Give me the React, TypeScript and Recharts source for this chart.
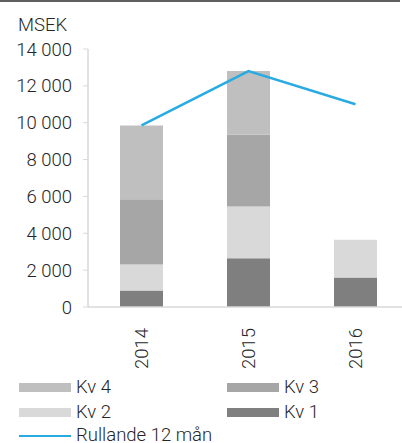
import React from 'react';
import { ComposedChart, Bar, Line, XAxis, YAxis } from 'recharts';

const years = ['2014', '2015', '2016'];
const kv1 = [900, 2650, 1600];
const kv2 = [1400, 2800, 2050];
const kv3 = [3550, 3900, null];
const kv4 = [4000, 3450, null];
const rolling = [9850, 12800, 11000];
const yTicks = [0, 2000, 4000, 6000, 8000, 10000, 12000, 14000];

const FONT = 'Roboto, "Liberation Sans", sans-serif';
const FS = 18.5;
const TEXT = '#262626';
const AXIS = '#d9d9d9';
const BLUE = '#29abe2';

const colors = { kv1: '#7f7f7f', kv2: '#d9d9d9', kv3: '#a6a6a6', kv4: '#bfbfbf' };

const data = years.map((y, i) => ({
  year: y,
  kv1: kv1[i],
  kv2: kv2[i],
  kv3: kv3[i],
  kv4: kv4[i],
  rolling: rolling[i],
}));

const fmt = (v: number) => String(v).replace(/\B(?=(\d{3})+(?!\d))/g, ' ');

const YearTick = ({ x, y, payload }: any) => (
  <text
    transform={`translate(${x},${y + 13}) rotate(-90)`}
    textAnchor="end"
    dy="0.36em"
    fontSize={FS}
    fontFamily={FONT}
    fontWeight={300}
    fill={TEXT}
  >
    {payload.value}
  </text>
);

const legendRows = [
  [{ name: 'Kv 4', color: colors.kv4 }, { name: 'Kv 3', color: colors.kv3 }],
  [{ name: 'Kv 2', color: colors.kv2 }, { name: 'Kv 1', color: colors.kv1 }],
];

export default function App() {
  const textStyle: React.CSSProperties = {
    fontSize: FS,
    lineHeight: `${FS}px`,
    fontWeight: 300,
    color: TEXT,
    whiteSpace: 'nowrap',
  };
  return (
    <div
      style={{
        position: 'absolute',
        left: 0,
        top: 0,
        width: 402,
        height: 443,
        overflow: 'hidden',
        background: '#fff',
        fontFamily: FONT,
      }}
    >
      <div style={{ position: 'absolute', left: 0, top: 0, width: 400, height: 2, background: '#5f5f5f' }} />
      <div style={{ ...textStyle, position: 'absolute', left: 18, top: 15.5 }}>MSEK</div>

      <ComposedChart
        width={409}
        height={443}
        data={data}
        margin={{ top: 49, right: 0, left: 0, bottom: 76 }}
        barCategoryGap={0}
      >
        <XAxis
          xAxisId="grid"
          type="number"
          domain={[0, 3]}
          ticks={[0, 1, 2, 3]}
          allowDataOverflow
          height={0}
          axisLine={false}
          tickSize={6}
          tickLine={{ stroke: AXIS, strokeWidth: 1.5 }}
          tickFormatter={() => ''}
        />
        <XAxis
          dataKey="year"
          height={60}
          axisLine={{ stroke: AXIS, strokeWidth: 1.5 }}
          tickLine={false}
          tick={<YearTick />}
          interval={0}
        />
        <YAxis
          width={88}
          domain={[0, 14000]}
          ticks={yTicks}
          interval={0}
          tickFormatter={fmt}
          axisLine={{ stroke: AXIS, strokeWidth: 1.5 }}
          tickLine={{ stroke: AXIS }}
          tickSize={5}
          tickMargin={11}
          tick={{ fontSize: FS, fontFamily: FONT, fontWeight: 300, fill: TEXT }}
        />
        <Bar dataKey="kv1" stackId="a" fill={colors.kv1} barSize={43} isAnimationActive={false} />
        <Bar dataKey="kv2" stackId="a" fill={colors.kv2} barSize={43} isAnimationActive={false} />
        <Bar dataKey="kv3" stackId="a" fill={colors.kv3} barSize={43} isAnimationActive={false} />
        <Bar dataKey="kv4" stackId="a" fill={colors.kv4} barSize={43} isAnimationActive={false} />
        <Line
          dataKey="rolling"
          stroke={BLUE}
          strokeWidth={2.5}
          dot={false}
          activeDot={false}
          isAnimationActive={false}
        />
      </ComposedChart>

      {legendRows.map((row, r) =>
        row.map((item, c) => (
          <div
            key={item.name}
            style={{
              position: 'absolute',
              left: 19,
              marginLeft: c === 0 ? 0 : 208,
              top: 374.5 + r * 25,
              height: 25,
              display: 'flex',
              alignItems: 'center',
            }}
          >
            <div style={{ width: 52, height: 9, background: item.color, marginRight: 5 }} />
            <span style={textStyle}>{item.name}</span>
          </div>
        ))
      )}
      <div
        style={{
          position: 'absolute',
          left: 19,
          top: 423,
          height: 25,
          display: 'flex',
          alignItems: 'center',
        }}
      >
        <div style={{ width: 52, height: 2, background: BLUE, marginRight: 5 }} />
        <span style={textStyle}>Rullande 12 mån</span>
      </div>
    </div>
  );
}
